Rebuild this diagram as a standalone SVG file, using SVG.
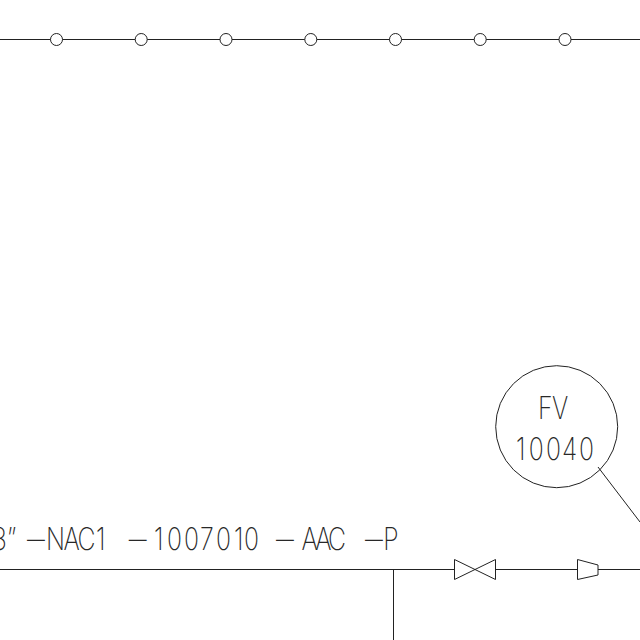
<svg xmlns="http://www.w3.org/2000/svg" width="640" height="640" viewBox="0 0 640 640">
<style>
.l{fill:none;stroke:#222;stroke-width:1}
.p{fill:#fff;stroke:#222;stroke-width:1}
text{font-family:"Inter","Liberation Sans",sans-serif;font-weight:200;font-size:31px;fill:#222}
.gs{opacity:.97}
</style>
<rect width="640" height="640" fill="#fff"/>
<g id="connectors">
<path class="l" d="M0 39.5H640M0 569.5H640M393.5 570V640M598 467L640 522"/>
</g>
<g id="top-markers">
<circle class="p" cx="56.5" cy="39.5" r="6"/>
<circle class="p" cx="141.2" cy="39.5" r="6"/>
<circle class="p" cx="226" cy="39.5" r="6"/>
<circle class="p" cx="310.8" cy="39.5" r="6"/>
<circle class="p" cx="395.5" cy="39.5" r="6"/>
<circle class="p" cx="480.2" cy="39.5" r="6"/>
<circle class="p" cx="565" cy="39.5" r="6"/>
</g>
<g id="valve"><path class="p" d="M454.5 559.5L495.5 579.5V559.5L454.5 579.5Z"/></g>
<g id="reducer"><path class="p" d="M577.5 559.5L598 565V575L577.5 579.5Z"/></g>
<g id="instrument-fv">
<circle class="l" cx="556.7" cy="426.7" r="61"/>
<g class="gs" transform="scale(.8 1)">
<text x="672.5 690" y="419">FV</text>
<text x="645 661 682.5 702.5 723.75" y="460">10040</text>
</g>
</g>
<g id="line-label" class="gs">
<g transform="scale(.8 1)">
<text x="-10 8.75" y="550">3”</text>
<text x="57.5 79.5 97 120" y="550">NAC1</text>
<text x="192.5 208.75 230 250 270 292.5 305" y="550">1007010</text>
<text x="377 394 410" y="550">AAC</text>
<text x="479" y="550">P</text>
</g>
<g transform="scale(1.15 1)">
<text x="23.5" y="550">–</text>
<text x="112" y="550">–</text>
<text x="240" y="550">–</text>
<text x="317.4" y="550">–</text>
</g>
</g>
</svg>
